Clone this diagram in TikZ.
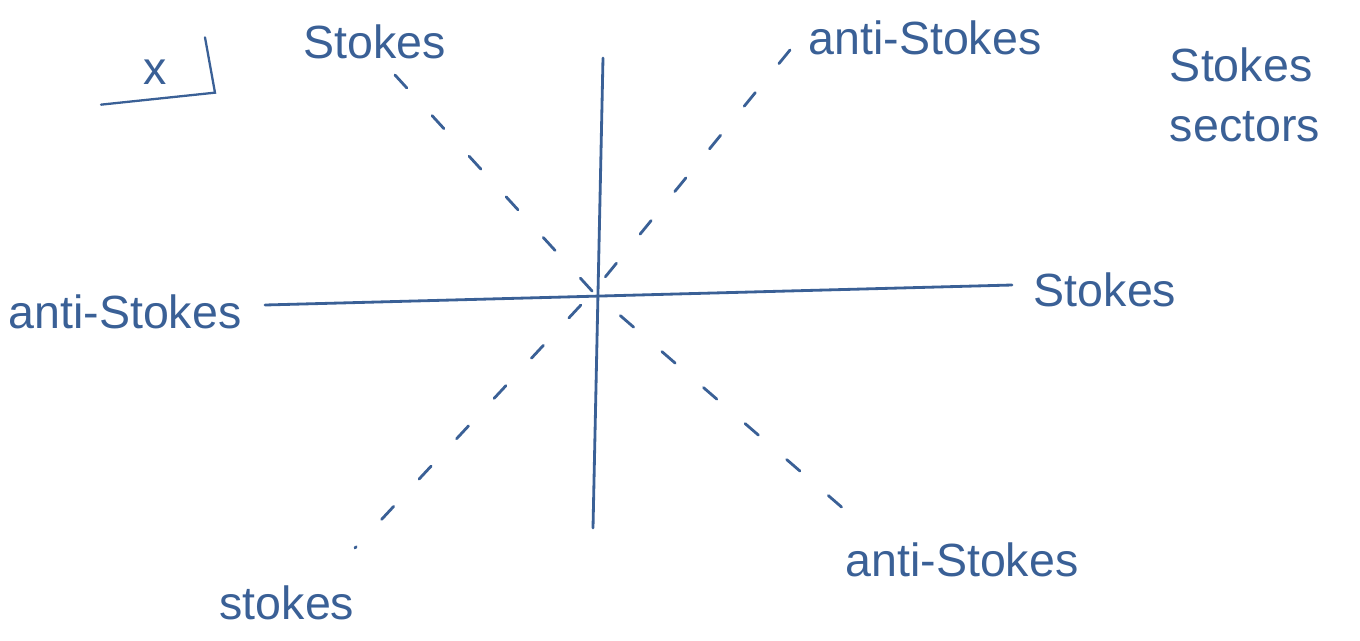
\documentclass[tikz,border=0pt]{standalone}
\usepackage{fontspec}
\setmainfont{Liberation Sans}
\usetikzlibrary{positioning,calc}
\definecolor{ink}{HTML}{3A6096}

\begin{document}
\begin{tikzpicture}[x=0.02cm, y=-0.02cm, every node/.style={text=ink}]
    \tikzstyle{axis} = [draw=ink, line width=1.6pt, line cap=round]
    \tikzstyle{ray} = [draw=ink, line width=1.6pt, line cap=round, dash pattern=on 0.35cm off 0.75cm]
    \tikzstyle{lbl} = [font=\fontsize{26.5}{30}\selectfont, inner sep=0pt]

    \useasboundingbox (0,0) rectangle (1360,640);

    \coordinate (o) at (593,292);
    \coordinate (n) at (603,58);
    \coordinate (s) at (593,528);
    \coordinate (w) at (265,305);
    \coordinate (e) at (1012,285);
    \coordinate (nw) at (395,75);
    \coordinate (se) at (845,510);
    \coordinate (ne) at (790,50);
    \coordinate (sw) at (355,548);

    % axes
    \draw [axis] (n) -- (s);
    \draw [axis] (w) -- (e);
    % dashed rays
    \draw [ray] (nw) -- (o) -- (se);
    \draw [ray] (ne) -- (o) -- (sw);

    % labels
    \node [lbl] (st1) at (375,42) {Stokes};
    \node [lbl] (as1) at (925,38) {anti-Stokes};
    \node [lbl, align=left] (sect) at (1245,95) {Stokes\\[4pt]sectors};
    \node [lbl] (as2) at (125,312) {anti-Stokes};
    \node [lbl] (st2) at (1105,290) {Stokes};
    \node [lbl] (as3) at (962,560) {anti-Stokes};
    \node [lbl] (st3) at (287,603) {stokes};

    % variable label
    \node [lbl] (var) at (155,72) {x};
    \draw [axis, line width=1.3pt] ($(var.south west)+(-42,20)$) -- ($(var.south east)+(48,8)$) -- ($(var.north east)+(38,-22)$);
\end{tikzpicture}
\end{document}
